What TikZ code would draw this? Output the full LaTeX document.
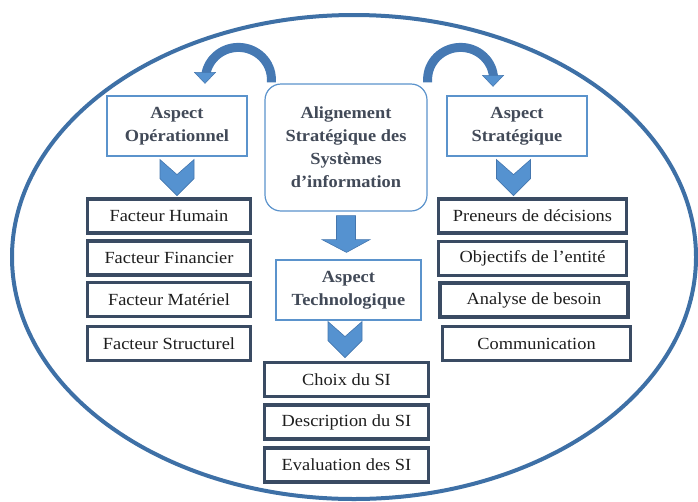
\documentclass[tikz,border=0pt]{standalone}
\usepackage{fontspec}
\setmainfont{Liberation Serif}[FakeStretch=1.08]
\usetikzlibrary{arrows.meta,calc}
\definecolor{ellc}{HTML}{3E70A6}
\definecolor{hdrc}{HTML}{5B93CC}
\definecolor{hdrtxt}{HTML}{424A58}
\definecolor{itemc}{HTML}{3A4B63}
\definecolor{itemtxt}{HTML}{1E1E1E}
\definecolor{arrc}{HTML}{5592D0}
\definecolor{arrd}{HTML}{4476AE}
\definecolor{curvc}{HTML}{4679B3}
\tikzset{
  txt/.style={font=\fontsize{17}{23}\selectfont},
  hdr/.style={txt, draw=hdrc, line width=1.2pt, fill=white, minimum width=140pt,
    minimum height=60pt, align=center, text=hdrtxt, font=\fontsize{17}{23}\selectfont\bfseries, inner sep=0pt},
  central/.style={hdr, rounded corners=16pt, minimum width=162pt, minimum height=127pt},
  item/.style={txt, draw=itemc, line width=3.2pt, fill=white, minimum height=34pt,
    text=itemtxt, inner sep=0pt},
  litem/.style={item, minimum width=163pt},
  ritem/.style={item, minimum width=188pt},
  bitem/.style={item, minimum width=164pt},
  chev/.style={fill=arrc, draw=arrd, line width=0.6pt},
  curv/.style={draw=curvc, line width=9pt},
  curvhead/.style={fill=arrc, draw=arrd, line width=0.5pt},
}
\begin{document}
\begin{tikzpicture}[x=1pt,y=-1pt]
\useasboundingbox (0,0) rectangle (698,501);
\draw[ellc, line width=4pt] (354,257) ellipse [x radius=342, y radius=242];

% central and headers
\node[central] (cen) at (346,147.5) {Alignement\\Stratégique des\\Systèmes\\d’information};
\node[hdr] (op) at (177,126) {Aspect\\Opérationnel};
\node[hdr] (st) at (517,126) {Aspect\\Stratégique};
\node[hdr, minimum width=145pt] (te) at (348.5,290) {Aspect\\Technologique};

% left list
\node[litem] (l1) at (169,216) {Facteur Humain};
\node[litem] (l2) at (169,258) {Facteur Financier};
\node[litem] (l3) at (169,299.5) {Facteur Matériel};
\node[litem] (l4) at (169,343.5) {Facteur Structurel};

% right list
\node[ritem] (r1) at (532.5,216) {Preneurs de décisions};
\node[ritem] (r2) at (532.5,258.5) {Objectifs de l’entité};
\node[ritem] (r3) at (534,300) {Analyse de besoin};
\node[ritem] (r4) at (536.5,343.5) {Communication};

% bottom list
\node[bitem] (b1) at (346.5,379.5) {Choix du SI};
\node[bitem] (b2) at (346.5,422) {Description du SI};
\node[bitem] (b3) at (346.5,465) {Evaluation des SI};

% chevrons
\fill[chev] ($(op.south)+(-17,3)$) -- ++(17,15) -- ++(17,-15) -- ++(0,19) -- ++(-17,17) -- ++(-17,-17) -- cycle;
\fill[chev] ($(st.south)+(-20.5,3)$) -- ++(17,15) -- ++(17,-15) -- ++(0,19) -- ++(-17,17) -- ++(-17,-17) -- cycle;
\fill[chev] ($(te.south)+(-20.5,1)$) -- ++(17,15) -- ++(17,-15) -- ++(0,19) -- ++(-17,17) -- ++(-17,-17) -- cycle;

% block arrow central -> technologique
\fill[chev] ($(cen.south)+(-9.5,4)$) -- ++(19,0) -- ++(0,24) -- ++(14.5,0)
  -- ($(te.north)+(-2,-7)$) -- ($(cen.south)+(-24,28)$) -- ++(14.5,0) -- cycle;

% curved arrows
\coordinate (cl) at ($(cen.north west)+(7,-1)$);
\coordinate (cr) at ($(cen.north east)+(0,-1)$);
\coordinate (tl) at ($(op.north)+(28,-12)$);
\coordinate (tr) at ($(st.north)+(-24,-9)$);
\draw[curv] (cl) -- ++(0,-3) arc[start angle=0, end angle=-178, x radius=33, y radius=32];
\draw[curvhead] (tl) -- ++(-10.5,-11) -- ++(21,0) -- cycle;
\draw[curv] (cr) -- ++(0,-3) arc[start angle=-180, end angle=-2, x radius=33, y radius=32];
\draw[curvhead] (tr) -- ++(-10.5,-11) -- ++(21,0) -- cycle;
\end{tikzpicture}
\end{document}
